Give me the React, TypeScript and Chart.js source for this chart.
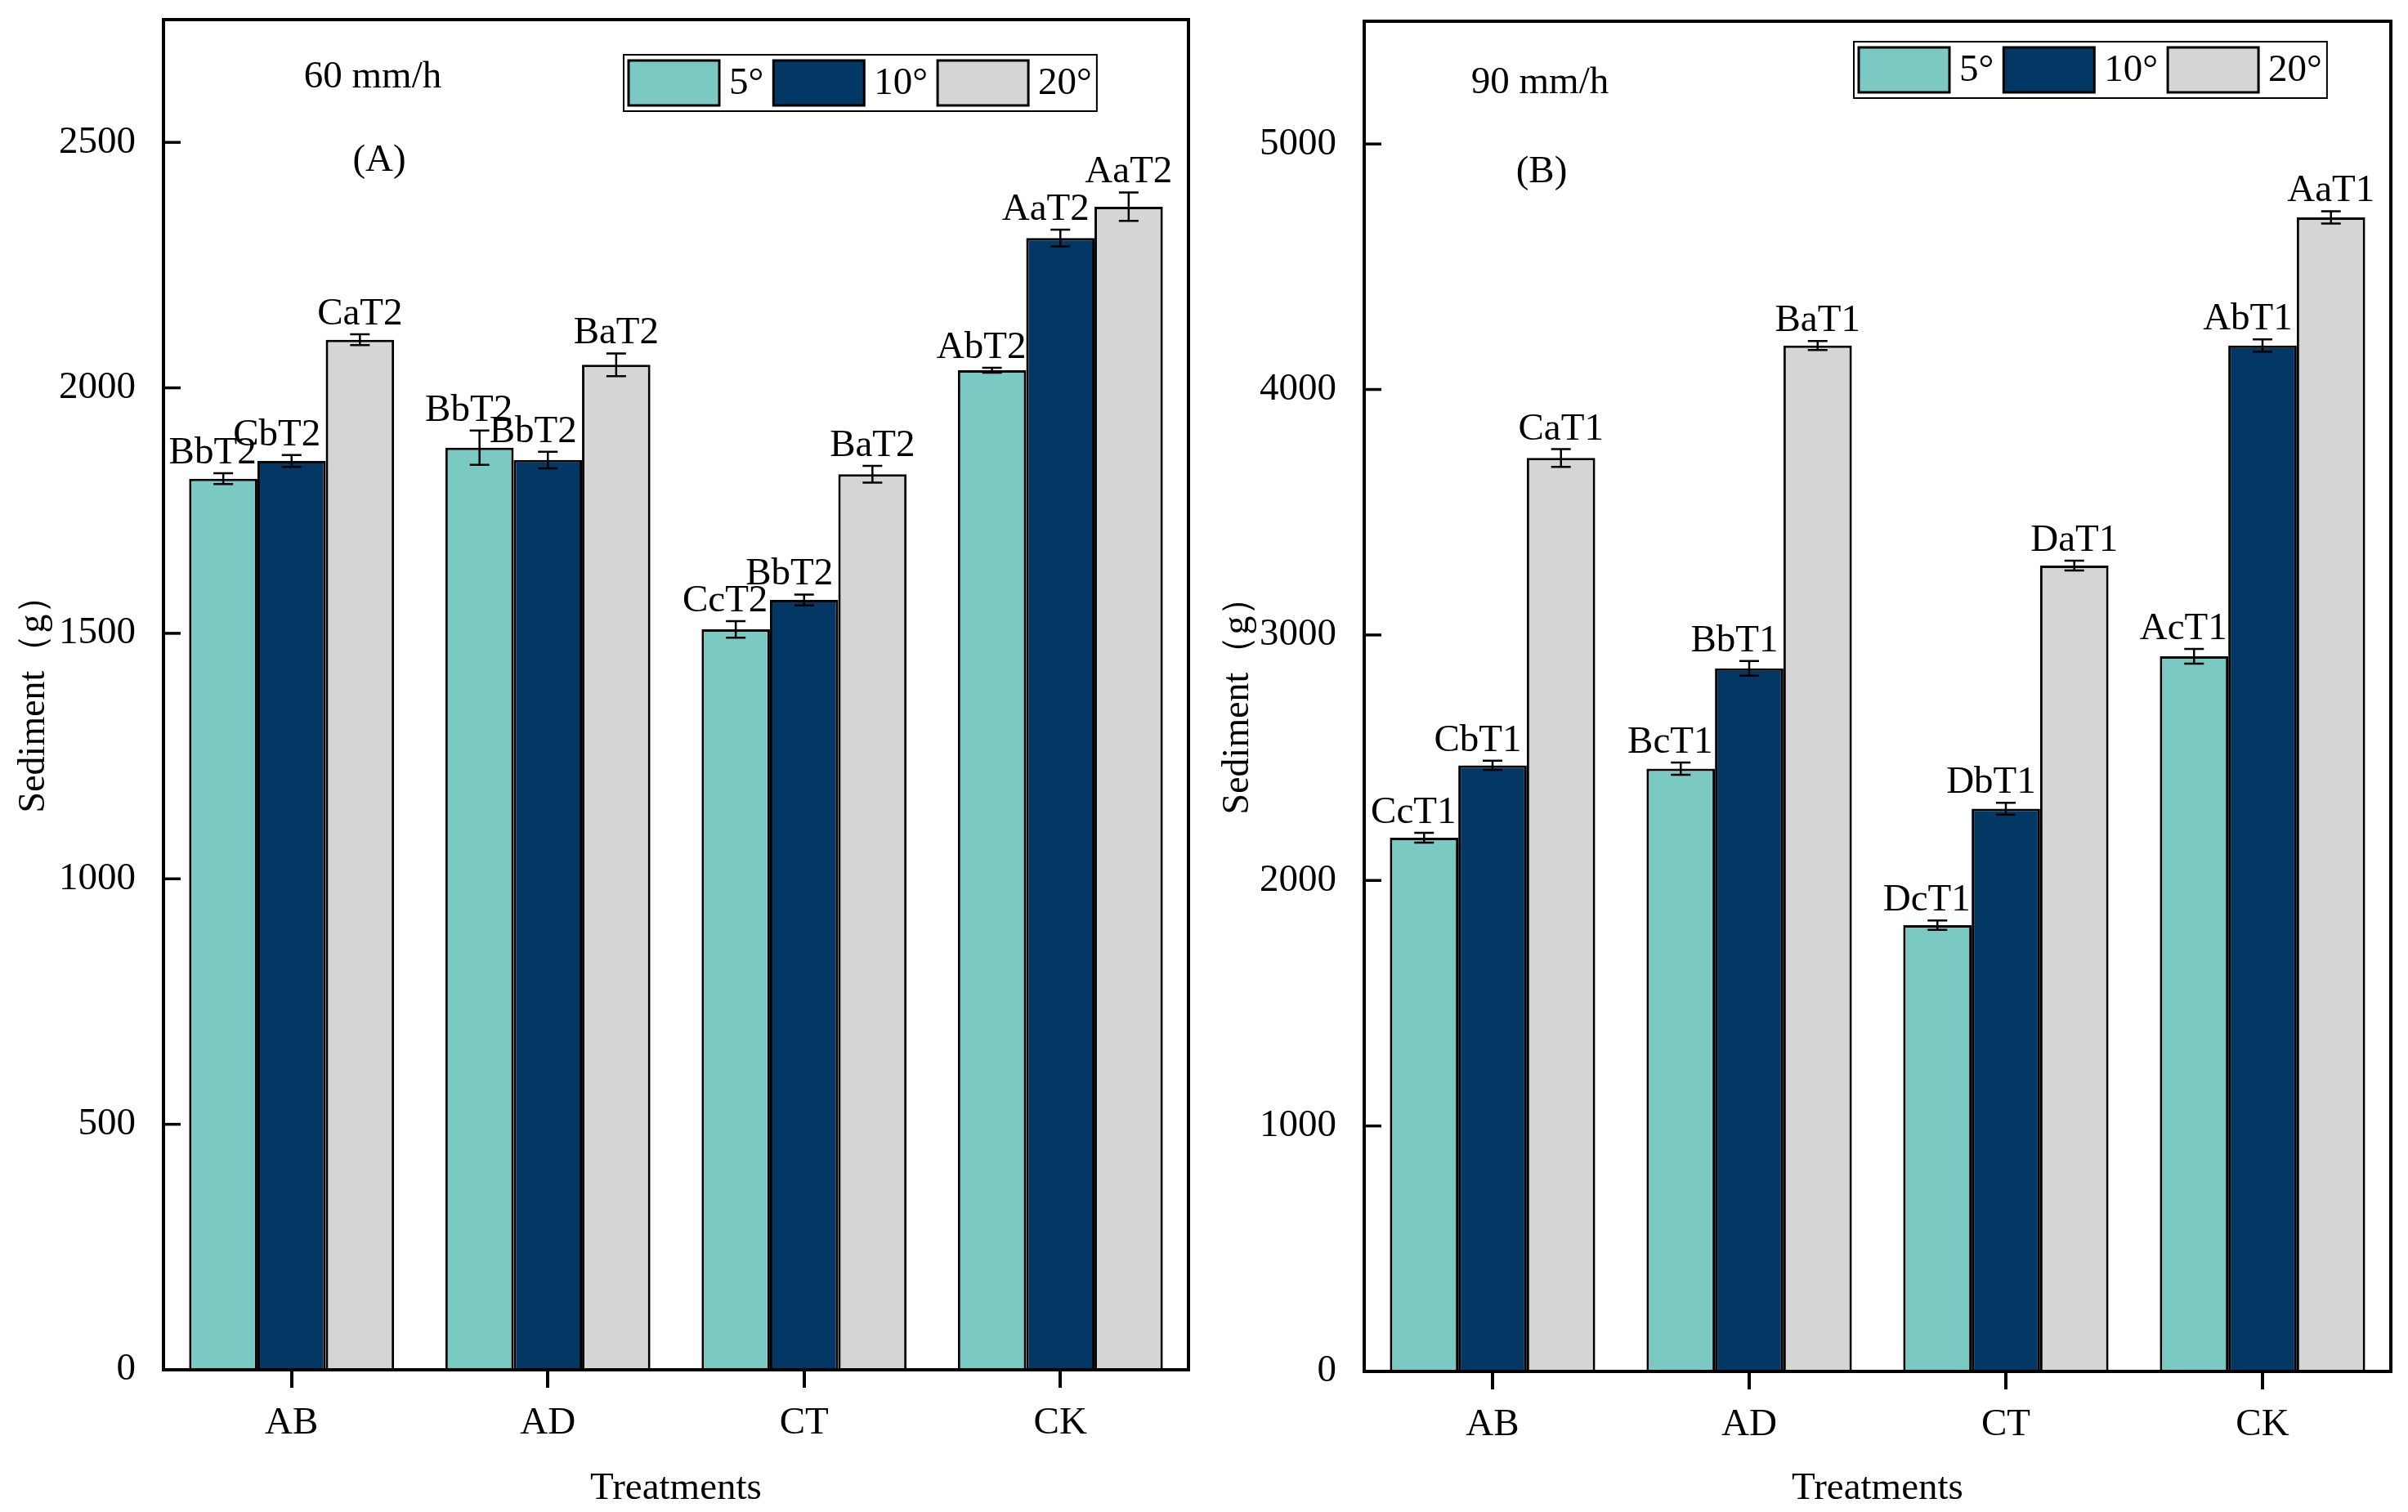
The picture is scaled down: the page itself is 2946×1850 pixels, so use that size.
import React, { useEffect, useRef } from 'react';
import { Chart, registerables } from 'chart.js';

Chart.register(...registerables);

const SERIF = "'Liberation Serif', 'Times New Roman', serif";

// shared
const categories = ['AB', 'AD', 'CT', 'CK'];
const slopeLabels = ['5°', '10°', '20°'];
const slopeColors = ['#7AC9C2', '#033764', '#D4D5D4'];

// (A) 60 mm/h, sediment (g)
const a5 = [1815, 1878, 1508, 2036];
const a10 = [1851, 1853, 1568, 2305];
const a20 = [2098, 2047, 1824, 2369];
const aErr5 = [11, 35, 17, 5];
const aErr10 = [12, 17, 11, 17];
const aErr20 = [11, 23, 17, 29];
const aLetters5 = ['BbT2', 'BbT2', 'CcT2', 'AbT2'];
const aLetters10 = ['CbT2', 'BbT2', 'BbT2', 'AaT2'];
const aLetters20 = ['CaT2', 'BaT2', 'BaT2', 'AaT2'];
const aTicks = [0, 500, 1000, 1500, 2000, 2500];

// (B) 90 mm/h, sediment (g)
const b5 = [2174, 2455, 1818, 2913];
const b10 = [2469, 2864, 2292, 4179];
const b20 = [3721, 4179, 3283, 4701];
const bErr5 = [20, 25, 19, 30];
const bErr10 = [19, 30, 24, 25];
const bErr20 = [36, 18, 20, 25];
const bLetters5 = ['CcT1', 'BcT1', 'DcT1', 'AcT1'];
const bLetters10 = ['CbT1', 'BbT1', 'DbT1', 'AbT1'];
const bLetters20 = ['CaT1', 'BaT1', 'DaT1', 'AaT1'];
const bTicks = [0, 1000, 2000, 3000, 4000, 5000];

// letters for 5° and 10° sit a little left of the bar centre
const LABEL_SHIFT = [-13, -18, 0];

type PanelProps = {
  series: number[][];
  errors: number[][];
  letters: string[][];
  yMax: number;
  yTicks: number[];
  rain: string;
  tag: string;
  padTop: number;
  padRight: number;
  yWidth: number;
  xHeight: number;
  rainPos: [number, number];
  tagPos: [number, number];
  legendPos: [number, number];
};

function makeDecorations(p: PanelProps) {
  return {
    id: 'decorations',
    afterDatasetsDraw(chart: any) {
      const { ctx } = chart;
      const y = chart.scales.y;
      ctx.save();
      chart.data.datasets.forEach((ds: any, di: number) => {
        const meta = chart.getDatasetMeta(di);
        meta.data.forEach((bar: any, i: number) => {
          const v = ds.data[i];
          const e = p.errors[di][i];
          const top = y.getPixelForValue(v + e);
          const bot = y.getPixelForValue(v - e);
          ctx.strokeStyle = '#000';
          ctx.lineWidth = 2.5;
          ctx.beginPath();
          ctx.moveTo(bar.x, top);
          ctx.lineTo(bar.x, bot);
          ctx.moveTo(bar.x - 12, top);
          ctx.lineTo(bar.x + 12, top);
          ctx.moveTo(bar.x - 12, bot);
          ctx.lineTo(bar.x + 12, bot);
          ctx.stroke();
          ctx.fillStyle = '#000';
          ctx.font = `47px ${SERIF}`;
          ctx.textAlign = 'center';
          ctx.textBaseline = 'alphabetic';
          ctx.fillText(p.letters[di][i], bar.x + LABEL_SHIFT[di], top - 12);
        });
      });
      ctx.restore();
    },
    afterDraw(chart: any) {
      const { ctx, chartArea: a } = chart;
      const y = chart.scales.y;
      ctx.save();
      // frame
      ctx.strokeStyle = '#000';
      ctx.lineWidth = 4;
      ctx.strokeRect(a.left, a.top, a.right - a.left, a.bottom - a.top);
      // inward y ticks
      ctx.lineWidth = 3.5;
      y.ticks.forEach((t: any) => {
        const py = y.getPixelForValue(t.value);
        ctx.beginPath();
        ctx.moveTo(a.left, py);
        ctx.lineTo(a.left + 21, py);
        ctx.stroke();
      });
      // texts
      ctx.fillStyle = '#000';
      ctx.font = `47px ${SERIF}`;
      ctx.textAlign = 'center';
      ctx.textBaseline = 'middle';
      ctx.fillText(p.rain, a.left + p.rainPos[0], a.top + p.rainPos[1]);
      ctx.fillText(p.tag, a.left + p.tagPos[0], a.top + p.tagPos[1]);
      // legend
      const bx = a.left + p.legendPos[0];
      const by = a.top + p.legendPos[1];
      let x = bx + 6;
      ctx.textAlign = 'left';
      slopeLabels.forEach((lab, i) => {
        ctx.fillStyle = slopeColors[i];
        ctx.fillRect(x, by + 7, 111, 55);
        ctx.lineWidth = 3;
        ctx.strokeStyle = '#000';
        ctx.strokeRect(x, by + 7, 111, 55);
        ctx.fillStyle = '#000';
        ctx.fillText(lab, x + 111 + 12, by + 36);
        const w = ctx.measureText(lab).width;
        x += 111 + 12 + w + (i < slopeLabels.length - 1 ? 12 : 6);
      });
      ctx.lineWidth = 2;
      ctx.strokeRect(bx, by, x - bx, 69);
      ctx.restore();
    },
  };
}

function Panel(p: PanelProps & { left: number }) {
  const canvasRef = useRef<HTMLCanvasElement | null>(null);
  useEffect(() => {
    const chart = new Chart(canvasRef.current as HTMLCanvasElement, {
      type: 'bar',
      data: {
        labels: categories,
        datasets: p.series.map((d, i) => ({
          label: slopeLabels[i],
          data: d,
          backgroundColor: slopeColors[i],
          borderColor: '#000',
          borderWidth: 3,
          categoryPercentage: 0.8,
          barPercentage: 1,
        })),
      },
      options: {
        animation: false,
        responsive: true,
        maintainAspectRatio: false,
        layout: { padding: { top: p.padTop, right: p.padRight, left: 0, bottom: 0 } },
        plugins: { legend: { display: false }, tooltip: { enabled: false } },
        scales: {
          x: {
            grid: {
              display: true,
              drawOnChartArea: false,
              drawTicks: true,
              tickLength: 22,
              offset: false,
              lineWidth: 4,
              color: '#000',
            },
            border: { display: false },
            ticks: { color: '#000', font: { family: SERIF, size: 47 }, padding: 15 },
            title: {
              display: true,
              text: 'Treatments',
              color: '#000',
              font: { family: SERIF, size: 47 },
              padding: { top: 0, bottom: 0 },
            },
            afterFit: (s: any) => {
              s.height = p.xHeight;
              s.paddingLeft = 0;
              s.paddingRight = 0;
            },
          },
          y: {
            min: 0,
            max: p.yMax,
            grid: { display: false },
            border: { display: false },
            afterBuildTicks: (s: any) => {
              s.ticks = p.yTicks.map((v) => ({ value: v }));
            },
            ticks: {
              color: '#000',
              font: { family: SERIF, size: 47 },
              padding: 26,
              callback: (v: any) => String(v),
            },
            title: {
              display: true,
              text: 'Sediment（g）',
              color: '#000',
              font: { family: SERIF, size: 46 },
              padding: { top: 14, bottom: 0 },
            },
            afterFit: (s: any) => {
              s.width = p.yWidth;
              s.paddingTop = 0;
              s.paddingBottom = 0;
            },
          },
        },
      } as any,
      plugins: [makeDecorations(p)],
    });
    return () => chart.destroy();
  }, []);
  return (
    <div style={{ position: 'absolute', left: p.left, top: 0, width: 1473, height: 1850 }}>
      <canvas ref={canvasRef} />
    </div>
  );
}

export default function App() {
  return (
    <div style={{ position: 'absolute', left: 0, top: 0, width: 2946, height: 1850, background: '#fff' }}>
      <Panel
        left={0}
        series={[a5, a10, a20]}
        errors={[aErr5, aErr10, aErr20]}
        letters={[aLetters5, aLetters10, aLetters20]}
        yMax={2750}
        yTicks={aTicks}
        rain="60 mm/h"
        tag="(A)"
        padTop={24}
        padRight={19}
        yWidth={200}
        xHeight={174}
        rainPos={[256, 71]}
        tagPos={[264, 173]}
        legendPos={[563, 43]}
      />
      <Panel
        left={1473}
        series={[b5, b10, b20]}
        errors={[bErr5, bErr10, bErr20]}
        letters={[bLetters5, bLetters10, bLetters20]}
        yMax={5500}
        yTicks={bTicks}
        rain="90 mm/h"
        tag="(B)"
        padTop={26}
        padRight={21}
        yWidth={196}
        xHeight={172}
        rainPos={[215, 76]}
        tagPos={[217, 185]}
        legendPos={[599, 25]}
      />
    </div>
  );
}
